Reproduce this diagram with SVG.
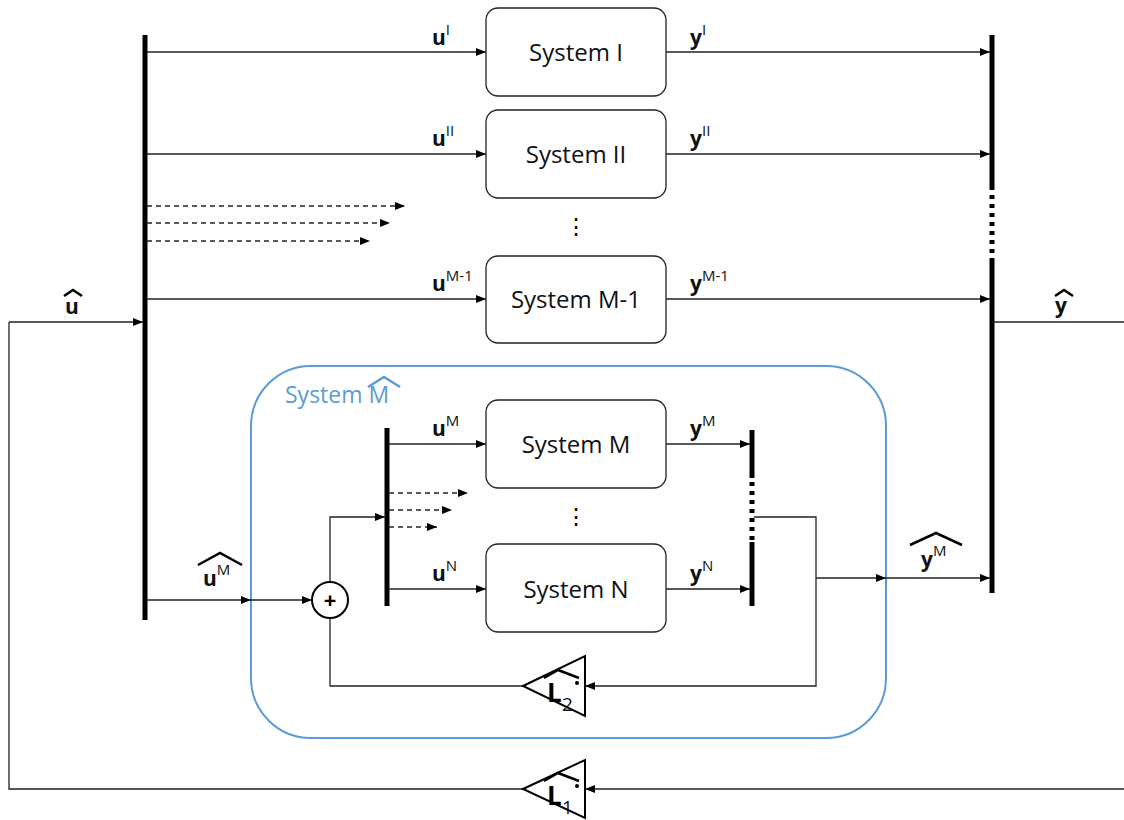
<svg xmlns="http://www.w3.org/2000/svg" width="1124" height="820" viewBox="0 0 1124 820">
<defs>
<marker id="ah" viewBox="0 0 10 8" refX="10" refY="4" markerWidth="10" markerHeight="8" markerUnits="userSpaceOnUse" orient="auto">
<path d="M0,0 L10,4 L0,8 Z" fill="#000"/>
</marker>
<style>
.ln{stroke:#222;stroke-width:1.3;fill:none}
.dl{stroke:#222;stroke-width:1.3;fill:none;stroke-dasharray:5,4}
.bus{stroke:#000;stroke-width:5;fill:none}
.dbus{stroke:#000;stroke-width:5;fill:none;stroke-dasharray:4,5}
.box{fill:#fff;stroke:#222;stroke-width:1.3}
.t{font-family:"Open Sans","Liberation Sans",sans-serif;font-size:24px;fill:#111}
.lb{font-family:"Open Sans","Liberation Sans",sans-serif;font-size:21px;font-weight:bold;fill:#111}
.sp{font-family:"Open Sans","Liberation Sans",sans-serif;font-size:15px;font-weight:normal;fill:#111}
.hat{stroke:#000;stroke-width:2.5;fill:none}
.gl{font-family:"Open Sans","Liberation Sans",sans-serif;font-size:26px;font-weight:bold;fill:#000}
.gs{font-family:"Open Sans","Liberation Sans",sans-serif;font-size:19px;fill:#111}
</style>
</defs>
<rect width="1124" height="820" fill="#fff"/>

<g id="container-Mhat">
<rect x="251" y="366" width="635" height="372" rx="60" ry="60" fill="none" stroke="#5b9bd5" stroke-width="2"/>
<text x="285" y="403" font-family="'Open Sans','Liberation Sans',sans-serif" font-size="23" fill="#5b9bd5">System M</text>
<polyline points="368,387 384,377 400,387" fill="none" stroke="#5b9bd5" stroke-width="2.5"/>
</g>

<g id="connectors">
<line class="bus" x1="145" y1="35" x2="145" y2="620"/>
<line class="bus" x1="992" y1="35" x2="992" y2="190"/>
<line class="dbus" x1="992" y1="195" x2="992" y2="262"/>
<line class="bus" x1="992" y1="262" x2="992" y2="593"/>
<line class="bus" x1="387" y1="428" x2="387" y2="606"/>
<line class="bus" x1="752" y1="430" x2="752" y2="478"/>
<line class="dbus" x1="752" y1="482" x2="752" y2="542"/>
<line class="bus" x1="752" y1="542" x2="752" y2="606"/>
<line class="ln" x1="147" y1="52" x2="486" y2="52" marker-end="url(#ah)"/>
<line class="ln" x1="147" y1="154" x2="486" y2="154" marker-end="url(#ah)"/>
<line class="ln" x1="147" y1="299" x2="486" y2="299" marker-end="url(#ah)"/>
<line class="dl" x1="147" y1="206" x2="405" y2="206" marker-end="url(#ah)"/>
<line class="dl" x1="147" y1="223" x2="390" y2="223" marker-end="url(#ah)"/>
<line class="dl" x1="147" y1="241" x2="370" y2="241" marker-end="url(#ah)"/>
<line class="ln" x1="666" y1="52" x2="990" y2="52" marker-end="url(#ah)"/>
<line class="ln" x1="666" y1="154" x2="990" y2="154" marker-end="url(#ah)"/>
<line class="ln" x1="666" y1="299" x2="990" y2="299" marker-end="url(#ah)"/>
<line class="ln" x1="389" y1="444" x2="486" y2="444" marker-end="url(#ah)"/>
<line class="ln" x1="389" y1="589" x2="486" y2="589" marker-end="url(#ah)"/>
<line class="dl" x1="389" y1="493" x2="468" y2="493" marker-end="url(#ah)"/>
<line class="dl" x1="389" y1="510" x2="452" y2="510" marker-end="url(#ah)"/>
<line class="dl" x1="389" y1="527" x2="437" y2="527" marker-end="url(#ah)"/>
<line class="ln" x1="666" y1="444" x2="750" y2="444" marker-end="url(#ah)"/>
<line class="ln" x1="666" y1="589" x2="750" y2="589" marker-end="url(#ah)"/>
<line class="ln" x1="9" y1="322" x2="143" y2="322" marker-end="url(#ah)"/>
<polyline class="ln" points="9,322 9,789 523,789"/>
<line class="ln" x1="1124" y1="789" x2="585" y2="789" marker-end="url(#ah)"/>
<line class="ln" x1="994" y1="322" x2="1124" y2="322"/>
<line class="ln" x1="147" y1="600" x2="251" y2="600" marker-end="url(#ah)"/>
<line class="ln" x1="251" y1="600" x2="312" y2="600" marker-end="url(#ah)"/>
<polyline class="ln" points="330,582 330,517 385,517" marker-end="url(#ah)"/>
<polyline class="ln" points="754,517 816,517 816,686 585,686" marker-end="url(#ah)"/>
<line class="ln" x1="816" y1="578" x2="886" y2="578" marker-end="url(#ah)"/>
<line class="ln" x1="886" y1="578" x2="990" y2="578" marker-end="url(#ah)"/>
<polyline class="ln" points="523,686 330,686 330,618"/>
</g>

<g id="sys1"><rect class="box" x="486" y="8" width="180" height="88" rx="12"/><text class="t" x="576" y="61" text-anchor="middle">System I</text></g>
<g id="sys2"><rect class="box" x="486" y="110" width="180" height="88" rx="12"/><text class="t" x="576" y="163" text-anchor="middle">System II</text></g>
<g id="sysM1"><rect class="box" x="486" y="256" width="180" height="87" rx="12"/><text class="t" x="576" y="308" text-anchor="middle">System M-1</text></g>
<g id="sysM"><rect class="box" x="486" y="400" width="180" height="88" rx="12"/><text class="t" x="576" y="453" text-anchor="middle">System M</text></g>
<g id="sysN"><rect class="box" x="486" y="544" width="180" height="88" rx="12"/><text class="t" x="576" y="598" text-anchor="middle">System N</text></g>

<g id="sum"><circle cx="330" cy="600" r="18" fill="#fff" stroke="#000" stroke-width="2"/><text x="330" y="608" text-anchor="middle" font-family="'Open Sans','Liberation Sans',sans-serif" font-size="22" font-weight="bold">+</text></g>

<g id="L2"><polygon points="523,686 585,656 585,716" fill="#fff" stroke="#000" stroke-width="2"/>
<text class="gl" x="547" y="702">L</text><text class="gs" x="562" y="711">2</text>
<circle cx="577" cy="683" r="2" fill="#000"/><polyline class="hat" stroke-width="2" points="544,678 558,670 579,678"/></g>
<g id="L1"><polygon points="523,789 585,760 585,818" fill="#fff" stroke="#000" stroke-width="2"/>
<text class="gl" x="547" y="805">L</text><text class="gs" x="562" y="814">1</text>
<circle cx="577" cy="786" r="2" fill="#000"/><polyline class="hat" stroke-width="2" points="544,781 558,773 579,781"/></g>

<g id="labels">
<text class="lb" x="432" y="45">u<tspan class="sp" dy="-10">I</tspan></text>
<text class="lb" x="690" y="45">y<tspan class="sp" dy="-10">I</tspan></text>
<text class="lb" x="432" y="146">u<tspan class="sp" dy="-10">II</tspan></text>
<text class="lb" x="690" y="146">y<tspan class="sp" dy="-10">II</tspan></text>
<text class="lb" x="432" y="291">u<tspan class="sp" dy="-10">M-1</tspan></text>
<text class="lb" x="690" y="291">y<tspan class="sp" dy="-10">M-1</tspan></text>
<text class="lb" x="432" y="436">u<tspan class="sp" dy="-10">M</tspan></text>
<text class="lb" x="690" y="436">y<tspan class="sp" dy="-10">M</tspan></text>
<text class="lb" x="432" y="581">u<tspan class="sp" dy="-10">N</tspan></text>
<text class="lb" x="690" y="581">y<tspan class="sp" dy="-10">N</tspan></text>
<text x="576" y="234" text-anchor="middle" font-family="'Open Sans','Liberation Sans',sans-serif" font-size="22">⋮</text>
<text x="576" y="524" text-anchor="middle" font-family="'Open Sans','Liberation Sans',sans-serif" font-size="22">⋮</text>
<text class="lb" x="65" y="314" font-size="22">u</text><polyline class="hat" points="64,296 73,290 82,296"/>
<text class="lb" x="1055" y="313" font-size="22">y</text><polyline class="hat" points="1055,296 1064,290 1073,296"/>
<text class="lb" x="203" y="586">u<tspan class="sp" dy="-11">M</tspan></text><polyline class="hat" points="198,565 220,553 242,565"/>
<text class="lb" x="921" y="567">y<tspan class="sp" dy="-11">M</tspan></text><polyline class="hat" points="910,545 936,533 962,545"/>
</g>
</svg>
